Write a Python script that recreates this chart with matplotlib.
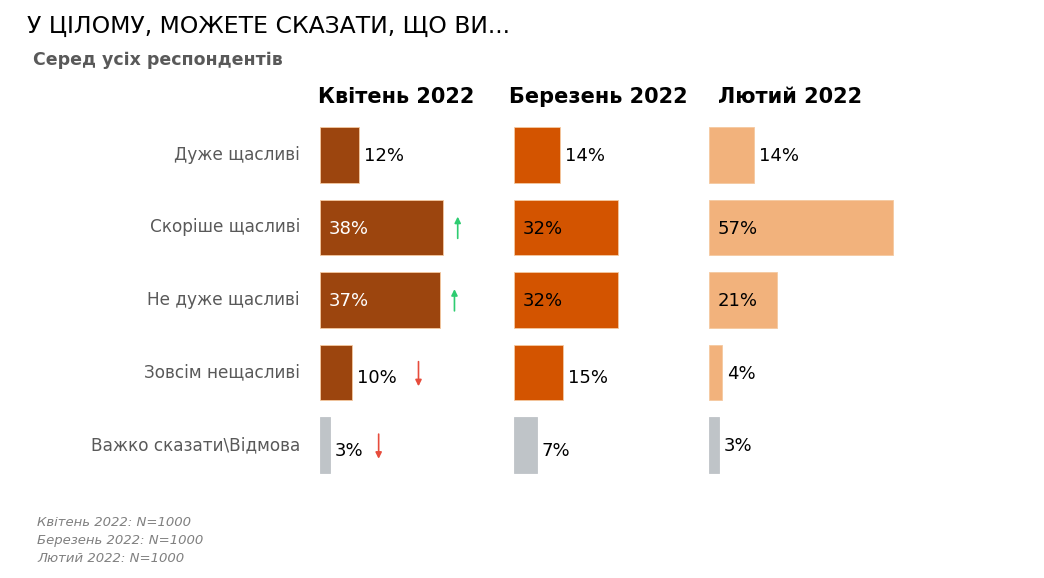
import numpy as np
import matplotlib.pyplot as plt

plt.rcParams['font.family'] = ['DejaVu Sans']

categories = ['Дуже щасливі', 'Скоріше щасливі', 'Не дуже щасливі',
              'Зовсім нещасливі', 'Важко сказати\\Відмова']
waves = ['Квітень 2022', 'Березень 2022', 'Лютий 2022']
apr = [12, 38, 37, 10, 3]
mar = [14, 32, 32, 15, 7]
feb = [14, 57, 21, 4, 3]
values = [apr, mar, feb]
# significant changes vs previous wave (row index, direction)
apr_changes = [(1, 'up'), (2, 'up'), (3, 'down'), (4, 'down')]
notes = ['Квітень 2022: N=1000', 'Березень 2022: N=1000', 'Лютий 2022: N=1000']

colors = ['#9C450E', '#D35400', '#F2B27C']
grey = '#BFC4C8'
inside_min = 20   # labels go inside bars at or above this value
white_inside = [True, False, False]
head_x = [0.39, 0.43, 0.42]

W, H = 1044, 578
fig = plt.figure(figsize=(W / 100, H / 100), dpi=100)

y = np.arange(len(categories))
axes = []
for k in range(3):
    left = (320 + 194.4 * k) / W
    ax = fig.add_axes([left, 1 - 481.25 / H, 194.4 / W, 362.5 / H])
    axes.append(ax)
    vals = values[k]
    cols = [colors[k]] * 4 + [grey]
    ax.barh(y, vals, height=0.77, color=cols,
            edgecolor=[c if c == grey else '#F5C9A0' for c in cols], linewidth=0.6)
    for i, v in enumerate(vals):
        if v >= inside_min:
            ax.text(2.6, i + 0.02, f'{v}%', va='center', ha='left', fontsize=13,
                    color='white' if white_inside[k] else 'black')
        else:
            dy = 0.08 if i >= 3 and k < 2 else 0.02
            ax.text(v + 1.5, i + dy, f'{v}%', va='center', ha='left',
                    fontsize=13, color='black')
    ax.set_xlim(0, 60)
    ax.set_ylim(4.5, -0.5)
    ax.axis('off')
    ax.text(head_x[k], 1.06, waves[k], transform=ax.transAxes, ha='center',
            va='center', fontsize=15, fontweight='bold', color='black')

# change arrows for the April wave
ax = axes[0]
for i, d in apr_changes:
    v = apr[i]
    if v >= inside_min:
        xa = v + 4.5
    else:
        xa = v + 4.5 + 5.3 * len(str(v) + '%')
    if d == 'up':
        ax.annotate('', xy=(xa, i - 0.15), xytext=(xa, i + 0.15),
                    arrowprops=dict(arrowstyle='-|>', color='#2ECC71', lw=1.2,
                                    mutation_scale=9, shrinkA=0, shrinkB=0))
    else:
        ax.annotate('', xy=(xa, i + 0.19), xytext=(xa, i - 0.15),
                    arrowprops=dict(arrowstyle='-|>', color='#E74C3C', lw=1.2,
                                    mutation_scale=9, shrinkA=0, shrinkB=0))

# category labels
for i, c in enumerate(categories):
    axes[0].text(-6.2, i, c, ha='right', va='center', fontsize=12.2, color='#595959')

fig.text(27 / W, 1 - 26 / H, 'У ЦІЛОМУ, МОЖЕТЕ СКАЗАТИ, ЩО ВИ...', ha='left',
         va='center', fontsize=16.9, color='black')
fig.text(33 / W, 1 - 60 / H, 'Серед усіх респондентів', ha='left', va='center',
         fontsize=12.5, fontweight='bold', color='#595959')
for j, n in enumerate(notes):
    fig.text(37 / W, 1 - (523 + 17.5 * j) / H, n, ha='left', va='center',
             fontsize=9.5, style='italic', color='#808080')

fig.savefig('out.png', dpi=100)
